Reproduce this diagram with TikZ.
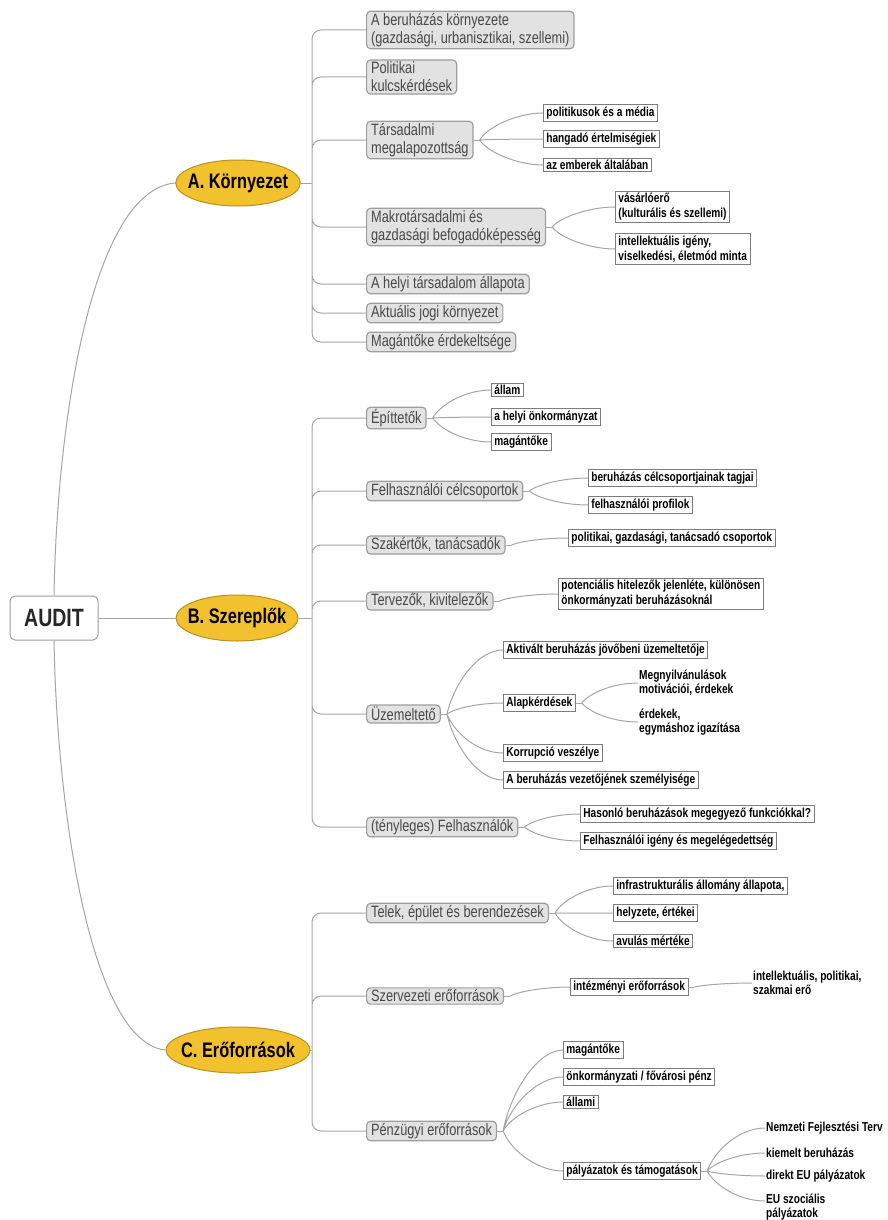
\documentclass[tikz,border=0pt]{standalone}
\usepackage{fontspec}
\setmainfont{Liberation Sans}[FakeStretch=0.78]
\usepackage{xcolor}
\usepackage{tikz}
\usetikzlibrary{shapes,arrows.meta,positioning,calc}

\definecolor{topicfill}{RGB}{242,193,46}
\definecolor{topicline}{RGB}{185,145,30}
\definecolor{subfill}{RGB}{226,226,226}
\definecolor{subline}{RGB}{158,158,158}
\definecolor{subtext}{RGB}{72,72,72}
\definecolor{leafline}{RGB}{125,125,125}
\definecolor{linkgray}{RGB}{165,165,165}

\begin{document}
\begin{tikzpicture}[
    x=1pt, y=-1pt,
    root/.style={rectangle, rounded corners=5pt, draw=subline, fill=white, line width=1pt, minimum width=88pt, minimum height=44pt, font=\fontsize{25}{28}\selectfont\bfseries, text=black!85},
    topic/.style={ellipse, draw=topicline, fill=topicfill, line width=1pt, inner xsep=-6pt, inner ysep=2pt, minimum height=46pt, font=\fontsize{21}{24}\selectfont\bfseries},
    sub/.style={rectangle, rounded corners=4pt, draw=subline, fill=subfill, line width=1.2pt, anchor=west, align=left, inner xsep=4.5pt, inner ysep=2pt, text=subtext, font=\fontsize{16.4}{18}\selectfont},
    leaf/.style={rectangle, draw=leafline, fill=white, line width=0.8pt, anchor=west, align=left, inner xsep=3pt, inner ysep=2pt, font=\fontsize{13}{15}\selectfont\bfseries},
    note/.style={anchor=west, align=left, inner sep=1pt, font=\fontsize{13}{14}\selectfont\bfseries},
    link/.style={draw=linkgray, line width=1pt},
    trunk/.style={link, rounded corners=9pt},
    fan/.style={to path={.. controls ($(\tikztostart)!0.5!(\tikztostart|-\tikztotarget)+(8,0)$) and ($(\tikztotarget)+(-25,0)$) .. (\tikztotarget)}}
]
    \useasboundingbox (0,0) rectangle (888,1220);

    \node [root] (audit) at (54,618) {AUDIT};
    \node [topic] (korny) at (238,183) {A. Környezet};
    \node [topic, right=77pt of audit] (szer) {B. Szereplők};
    \node [topic] (erof) at (238,1050) {C. Erőforrások};

    % A. Környezet
    \node [sub] (bk) at (366,30) {A beruházás környezete\\(gazdasági, urbanisztikai, szellemi)};
    \node [sub] (pk) at (366,77) {Politikai\\kulcskérdések};
    \node [sub] (tm) at (366,140) {Társadalmi\\megalapozottság};
    \node [sub] (mg) at (366,227) {Makrotársadalmi és\\gazdasági befogadóképesség};
    \node [sub] (ht) at (366,284) {A helyi társadalom állapota};
    \node [sub] (aj) at (366,313) {Aktuális jogi környezet};
    \node [sub] (me) at (366,342) {Magántőke érdekeltsége};
    \node [leaf] (pm) at (543,113) {politikusok és a média};
    \node [leaf] (he) at (543,139) {hangadó értelmiségiek};
    \node [leaf] (ea) at (543,165) {az emberek általában};
    \node [leaf] (va) at (615,207) {vásárlóerő\\(kulturális és szellemi)};
    \node [leaf] (ii) at (615,249) {intellektuális igény,\\viselkedési, életmód minta};

    % B. Szereplők
    \node [sub] (ep) at (366,418) {Építtetők};
    \node [sub] (fc) at (366,491) {Felhasználói célcsoportok};
    \node [sub] (st) at (366,545) {Szakértők, tanácsadók};
    \node [sub] (tk) at (366,601) {Tervezők, kivitelezők};
    \node [sub] (uz) at (366,714) {Üzemeltető};
    \node [sub] (tf) at (366,827) {(tényleges) Felhasználók};
    \node [leaf] (al) at (491,390) {állam};
    \node [leaf] (ho) at (491,417) {a helyi önkormányzat};
    \node [leaf] (mt) at (491,442) {magántőke};
    \node [leaf] (bc) at (588,478) {beruházás célcsoportjainak tagjai};
    \node [leaf] (fp) at (588,505) {felhasználói profilok};
    \node [leaf] (pg) at (568,538) {politikai, gazdasági, tanácsadó csoportok};
    \node [leaf] (ph) at (558,594) {potenciális hitelezők jelenléte, különösen\\önkormányzati beruházásoknál};
    \node [leaf] (ab) at (503,650) {Aktivált beruházás jövőbeni üzemeltetője};
    \node [leaf] (ak) at (503,703) {Alapkérdések};
    \node [leaf] (kv) at (503,753) {Korrupció veszélye};
    \node [leaf] (bv) at (503,780) {A beruházás vezetőjének személyisége};
    \node [note] (mm) at (638,683) {Megnyilvánulások\\motivációi, érdekek};
    \node [note] (ei) at (638,722) {érdekek,\\egymáshoz igazítása};
    \node [leaf] (hb) at (580,814) {Hasonló beruházások megegyező funkciókkal?};
    \node [leaf] (fi) at (580,841) {Felhasználói igény és megelégedettség};

    % C. Erőforrások
    \node [sub] (te) at (366,913) {Telek, épület és berendezések};
    \node [sub] (sz) at (366,996) {Szervezeti erőforrások};
    \node [sub] (pe) at (366,1131) {Pénzügyi erőforrások};
    \node [leaf] (ia) at (613,886) {infrastrukturális állomány állapota,};
    \node [leaf] (hz) at (613,913) {helyzete, értékei};
    \node [leaf] (av) at (613,941) {avulás mértéke};
    \node [leaf] (ie) at (570,987) {intézményi erőforrások};
    \node [note] (ip) at (752,983) {intellektuális, politikai,\\szakmai erő};
    \node [leaf] (mk) at (563,1050) {magántőke};
    \node [leaf] (of) at (563,1077) {önkormányzati / fővárosi pénz};
    \node [leaf] (ai) at (563,1102) {állami};
    \node [leaf] (pt) at (563,1171) {pályázatok és támogatások};
    \node [note] (nf) at (765,1128) {Nemzeti Fejlesztési Terv};
    \node [note] (kb) at (765,1153) {kiemelt beruházás};
    \node [note] (de) at (765,1176) {direkt EU pályázatok};
    \node [note] (es) at (765,1207) {EU szociális\\pályázatok};
    \coordinate (es-in) at ([yshift=6pt]es.west);

    % Main branches
    \draw [link] (audit.north) .. controls (57,420) and (92,190) .. (korny.west);
    \draw [link] (audit) -- (szer);
    \draw [link] (audit.south) .. controls (57,816) and (92,1043) .. (erof.west);

    \coordinate (korny-j) at (312,183);
    \coordinate (szer-j) at (312,618);
    \coordinate (erof-j) at (312,1050);
    \draw [link] (korny.east) -- (korny-j);
    \draw [link] (szer.east) -- (szer-j);
    \draw [link] (erof.east) -- (erof-j);
    \draw [trunk] (korny-j) |- (bk.west) (korny-j) |- (pk.west) (korny-j) |- (tm.west)
        (korny-j) |- (mg.west) (korny-j) |- (ht.west) (korny-j) |- (aj.west) (korny-j) |- (me.west);
    \draw [trunk] (szer-j) |- (ep.west) (szer-j) |- (fc.west) (szer-j) |- (st.west)
        (szer-j) |- (tk.west) (szer-j) |- (uz.west) (szer-j) |- (tf.west);
    \draw [trunk] (erof-j) |- (te.west) (erof-j) |- (sz.west) (erof-j) |- (pe.west);

    % Sub-branches
    \draw [link] (tm.east) -- ++(6,0) coordinate (tm-j);
    \draw [link] (tm-j) to[fan] (pm.west) (tm-j) to[fan] (he.west) (tm-j) to[fan] (ea.west);
    \draw [link] (mg.east) -- ++(6,0) coordinate (mg-j);
    \draw [link] (mg-j) to[fan] (va.west) (mg-j) to[fan] (ii.west);
    \draw [link] (ep.east) -- ++(6,0) coordinate (ep-j);
    \draw [link] (ep-j) to[fan] (al.west) (ep-j) to[fan] (ho.west) (ep-j) to[fan] (mt.west);
    \draw [link] (fc.east) -- ++(6,0) coordinate (fc-j);
    \draw [link] (fc-j) to[fan] (bc.west) (fc-j) to[fan] (fp.west);
    \draw [link] (st.east) -- ++(6,0) coordinate (st-j);
    \draw [link] (st-j) to[fan] (pg.west);
    \draw [link] (tk.east) -- ++(6,0) coordinate (tk-j);
    \draw [link] (tk-j) to[fan] (ph.west);
    \draw [link] (uz.east) -- ++(6,0) coordinate (uz-j);
    \draw [link] (uz-j) to[fan] (ab.west) (uz-j) to[fan] (ak.west) (uz-j) to[fan] (kv.west) (uz-j) to[fan] (bv.west);
    \draw [link] (ak.east) -- ++(6,0) coordinate (ak-j);
    \draw [link] (ak-j) to[fan] (mm.west) (ak-j) to[fan] (ei.west);
    \draw [link] (tf.east) -- ++(6,0) coordinate (tf-j);
    \draw [link] (tf-j) to[fan] (hb.west) (tf-j) to[fan] (fi.west);
    \draw [link] (te.east) -- ++(6,0) coordinate (te-j);
    \draw [link] (te-j) to[fan] (ia.west) (te-j) to[fan] (hz.west) (te-j) to[fan] (av.west);
    \draw [link] (sz.east) -- ++(6,0) coordinate (sz-j);
    \draw [link] (sz-j) to[fan] (ie.west);
    \draw [link] (ie.east) -- ++(6,0) coordinate (ie-j);
    \draw [link] (ie-j) to[fan] (ip.west);
    \draw [link] (pe.east) -- ++(6,0) coordinate (pe-j);
    \draw [link] (pe-j) to[fan] (mk.west) (pe-j) to[fan] (of.west) (pe-j) to[fan] (ai.west) (pe-j) to[fan] (pt.west);
    \draw [link] (pt.east) -- ++(6,0) coordinate (pt-j);
    \draw [link] (pt-j) to[fan] (nf.west) (pt-j) to[fan] (kb.west) (pt-j) to[fan] (de.west) (pt-j) to[fan] (es-in);

\end{tikzpicture}
\end{document}
